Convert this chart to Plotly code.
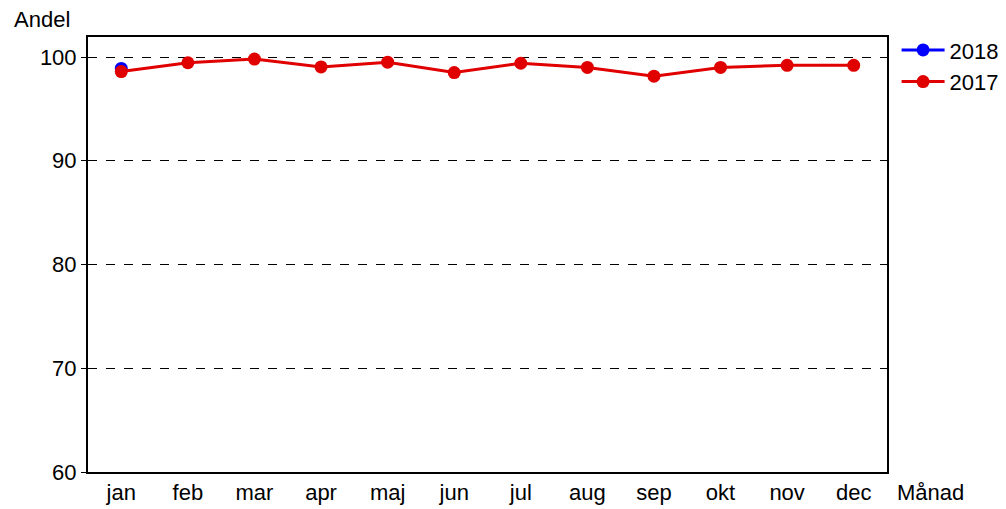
import plotly.graph_objects as go

months = ["jan", "feb", "mar", "apr", "maj", "jun", "jul", "aug", "sep", "okt", "nov", "dec"]
andel_2018 = [98.9]
andel_2017 = [98.6, 99.45, 99.8, 99.05, 99.5, 98.5, 99.4, 99.0, 98.15, 99.0, 99.2, 99.2]
y_ticks = [60, 70, 80, 90, 100]

font = dict(family="Liberation Sans, Arial, sans-serif", size=22, color="black")

fig = go.Figure()
fig.add_trace(go.Scatter(x=months[:len(andel_2018)], y=andel_2018, name="2018",
                         mode="lines+markers", line=dict(color="#0000ff", width=3),
                         marker=dict(size=13, color="#0000ff")))
fig.add_trace(go.Scatter(x=months, y=andel_2017, name="2017",
                         mode="lines+markers", line=dict(color="#e00000", width=3),
                         marker=dict(size=13, color="#e00000")))

# page body adds ~8px offset, so figure is shrunk by that amount
fig.update_layout(
    width=998, height=501,
    margin=dict(l=80, r=119, t=29, b=37, autoexpand=False),
    paper_bgcolor="white", plot_bgcolor="white",
    font=font,
    legend=dict(x=1.012, y=1.018, xanchor="left", yanchor="top",
                font=font, itemwidth=43, tracegroupgap=0, bgcolor="rgba(0,0,0,0)"),
    xaxis=dict(type="category", categoryarray=months, range=[-0.5, 11.5],
               showline=True, linecolor="black", linewidth=2, mirror=True,
               showgrid=False, ticks="", tickfont=font, zeroline=False,
               automargin=False),
    yaxis=dict(range=[60, 101.93], tickvals=y_ticks,
               showline=True, linecolor="black", linewidth=2, mirror=True,
               showgrid=True, gridcolor="black", gridwidth=1, griddash="dash",
               ticks="outside", ticklen=5, tickcolor="black", tickwidth=1,
               tickfont=font, zeroline=False, automargin=False),
    annotations=[
        dict(text="Andel", xref="paper", yref="paper", x=-0.095, y=1.0,
             xanchor="left", yanchor="middle", yshift=18, showarrow=False, font=font),
        dict(text="Månad", xref="paper", yref="paper", x=1.01, y=0,
             xanchor="left", yanchor="middle", yshift=-20, showarrow=False, font=font),
    ],
)

fig.write_html("out.html")
